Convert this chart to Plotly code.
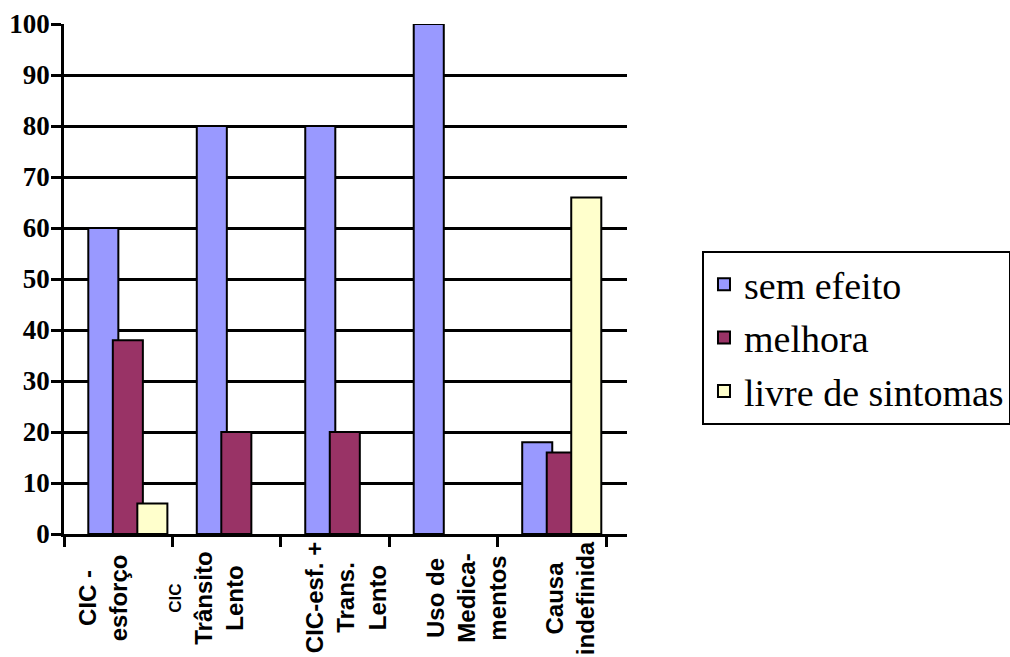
import plotly.graph_objects as go

# ---- data ----
CATEGORIES = ["CIC - esforço", "CIC Trânsito Lento", "CIC-esf. + Trans. Lento",
              "Uso de Medicamentos", "Causa indefinida"]
LABELS = ["CIC -<br>esforço",
          "<span style='font-size:17px'>CIC</span><br>Trânsito<br>Lento",
          "CIC-esf. +<br>Trans.<br>Lento",
          "Uso de<br>Medica-<br>mentos",
          "Causa<br>indefinida"]
SERIES = ["sem efeito", "melhora", "livre de sintomas"]
SEM_EFEITO = [60, 80, 80, 100, 18]
MELHORA = [38, 20, 20, 0, 16]
LIVRE = [6, 0, 0, 0, 66]
Y_TICKS = [0, 10, 20, 30, 40, 50, 60, 70, 80, 90, 100]

# ---- style ----
COLORS = ["#9999FF", "#993366", "#FFFFCC"]
OFFSETS = [-0.276, -0.05, 0.176]
BAR_W = 0.277
LABEL_SHIFT = [-15, -20, 10, 22, 18]

fig = go.Figure()
for name, vals, col, off in zip(SERIES, [SEM_EFEITO, MELHORA, LIVRE], COLORS, OFFSETS):
    fig.add_trace(go.Bar(
        x=CATEGORIES, y=[v if v else None for v in vals], name=name,
        width=BAR_W, offset=off, legendgroup=name,
        marker=dict(color=col, line=dict(color="black", width=2)),
    ))

for cat, lab, sh in zip(CATEGORIES, LABELS, LABEL_SHIFT):
    fig.add_annotation(
        x=cat, xref="x", y=-0.1255, yref="paper",
        text=lab, textangle=-90, showarrow=False,
        xanchor="center", yanchor="middle", xshift=sh, align="center",
        font=dict(family="Liberation Sans", size=24, color="black", weight="bold"),
    )

fig.update_layout(
    barmode="overlay",
    width=1010, height=657,
    margin=dict(l=64, r=383, t=24, b=123, autoexpand=False),
    paper_bgcolor="white", plot_bgcolor="white",
    showlegend=True,
    legend=dict(
        x=1.1332, y=0.555, xanchor="left", yanchor="top",
        bordercolor="black", borderwidth=2, bgcolor="white",
        traceorder="grouped", tracegroupgap=1,
        font=dict(family="Liberation Serif, Times New Roman, serif", size=38, color="black"),
    ),
    xaxis=dict(
        type="category", range=[-0.5, 4.69],
        showticklabels=False, showgrid=False,
        showline=True, linecolor="black", linewidth=2.5,
        ticks="outside", tickson="boundaries", ticklen=10, tickwidth=2.5, tickcolor="black",
    ),
    yaxis=dict(
        range=[0, 100], tickvals=Y_TICKS,
        showgrid=True, gridcolor="black", gridwidth=2.5,
        showline=True, linecolor="black", linewidth=2.5,
        ticks="outside", ticklen=10, tickwidth=2.5, tickcolor="black",
        ticklabelstandoff=-4,
        tickfont=dict(family="Liberation Serif, Times New Roman, serif", size=27,
                      color="black", weight="bold"),
        zeroline=False,
    ),
)

fig.write_html("out.html")
